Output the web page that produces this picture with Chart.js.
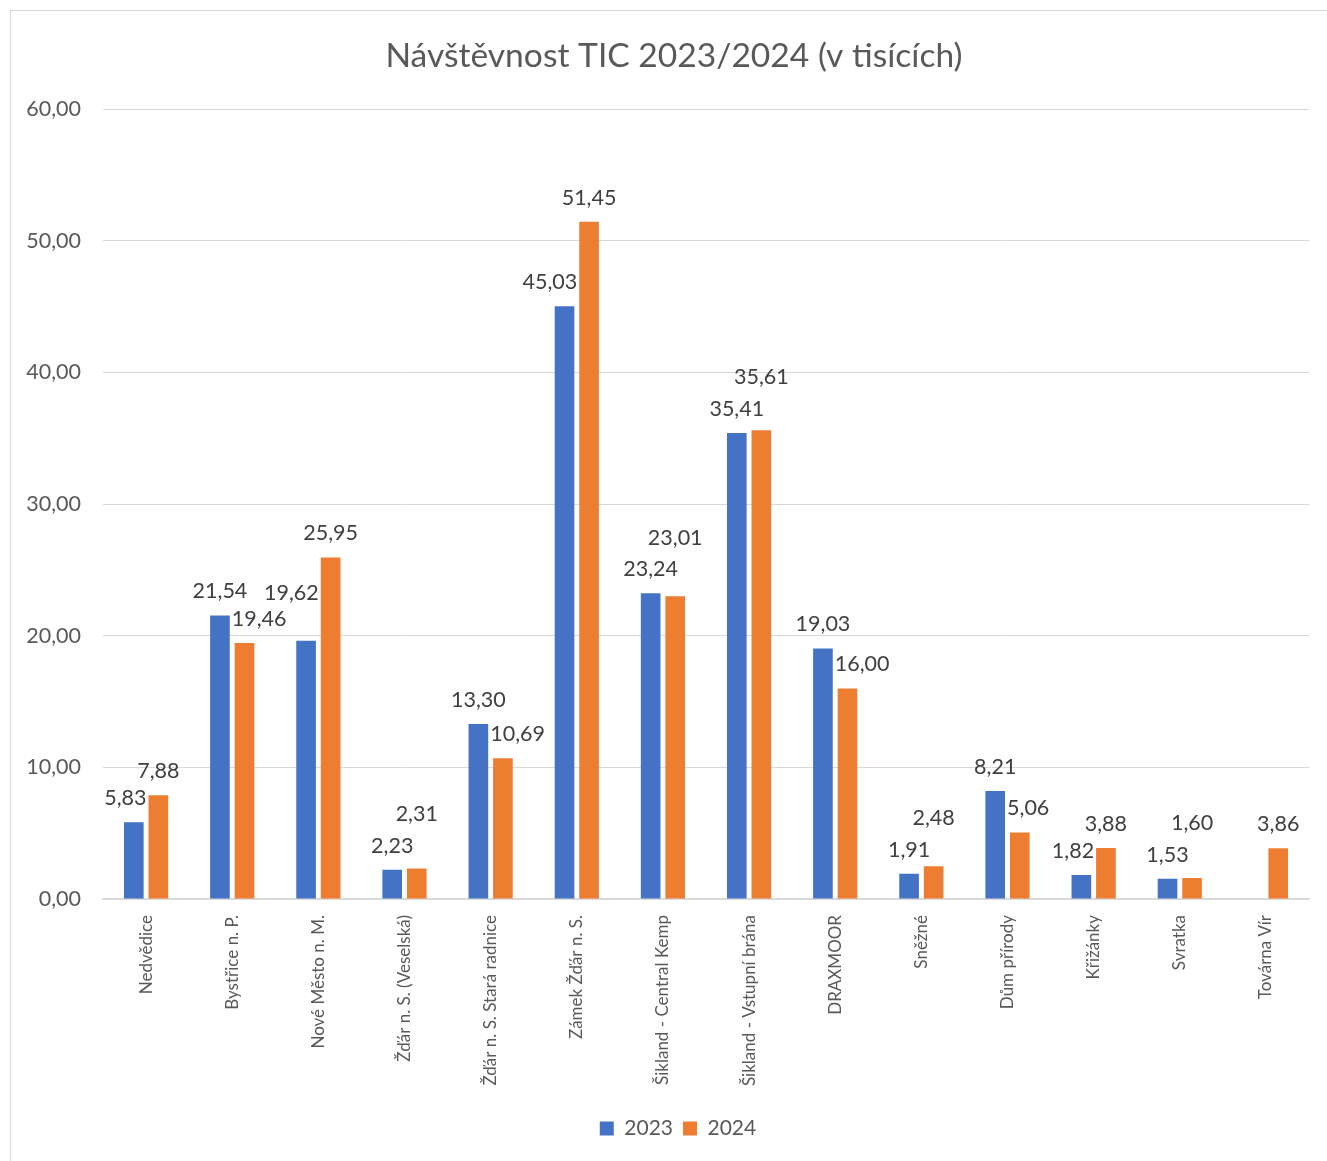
<!DOCTYPE html>
<html>
<head>
<meta charset="utf-8">
<script src="https://cdn.jsdelivr.net/npm/chart.js@4"></script>
<style>
  html, body { margin: 0; padding: 0; background: #fff; }
  #frame {
    position: absolute; left: 10px; top: 10px;
    width: 1316px; height: 1150px;
    border-left: 1px solid #d9d9d9; border-top: 1px solid #d9d9d9;
  }
  canvas { display: block; }
</style>
</head>
<body>
<div id="frame"><canvas id="chart" width="1316" height="1150"></canvas></div>
<script>
const categories = [
  "Nedvědice", "Bystřice n. P.", "Nové Město n. M.", "Žďár n. S. (Veselská)",
  "Žďár n. S. Stará radnice", "Zámek Žďár n. S.", "Šikland - Central Kemp",
  "Šikland - Vstupní brána", "DRAXMOOR", "Sněžné", "Dům přírody",
  "Křižánky", "Svratka", "Továrna Vír"
];
const visits2023 = [5.83, 21.54, 19.62, 2.23, 13.30, 45.03, 23.24, 35.41, 19.03, 1.91, 8.21, 1.82, 1.53, null];
const visits2024 = [7.88, 19.46, 25.95, 2.31, 10.69, 51.45, 23.01, 35.61, 16.00, 2.48, 5.06, 3.88, 1.60, 3.86];

const TEXT = "#595959";
const FONT = "Lato";

const fmt = (v) => v.toFixed(2).replace(".", ",");

// Excel-like value labels above bars, nudged away from neighbours
const valueLabels = {
  id: "valueLabels",
  afterDatasetsDraw(chart) {
    const ctx = chart.ctx;
    const size = 21.5;
    const h = size;
    ctx.save();
    ctx.font = `${size}px ${FONT}`;
    ctx.fillStyle = "#404040";
    ctx.textAlign = "center";
    ctx.textBaseline = "middle";
    const m0 = chart.getDatasetMeta(0).data;
    const m1 = chart.getDatasetMeta(1).data;
    const data = chart.data.datasets;
    const placed = [];
    const hit = (lbl, bar) =>
      lbl.x + lbl.w / 2 > bar.x - bar.width / 2 && lbl.x - lbl.w / 2 < bar.x + bar.width / 2 &&
      lbl.y + h / 2 > bar.y;
    const clash = (p, q) => Math.abs(p.x - q.x) < (p.w + q.w) / 2 && Math.abs(p.y - q.y) < h;
    for (let i = 0; i < categories.length; i++) {
      const boxes = [];
      [m0, m1].forEach((meta, d) => {
        const v = data[d].data[i];
        if (v == null) { boxes.push(null); return; }
        const bar = meta[i];
        const text = fmt(v);
        const w = ctx.measureText(text).width;
        boxes.push({ text, w, x: bar.x, y: bar.y - 24, bar });
      });
      const [a, b] = boxes;
      if (a && b) {
        if (hit(a, b.bar)) a.x = b.bar.x - b.bar.width / 2 - 2 - a.w / 2;
        if (hit(b, a.bar)) b.x = a.bar.x + a.bar.width / 2 + 2 + b.w / 2;
      }
      boxes.forEach((l) => {
        if (!l) return;
        let moved = true;
        while (moved) {
          moved = false;
          for (const p of placed) {
            if (clash(l, p)) { l.y = p.y - h - (p.bar.x < l.bar.x - 40 ? 4 : 10); moved = true; }
          }
        }
        placed.push(l);
        ctx.fillText(l.text, l.x, l.y);
      });
    }
    ctx.restore();
  }
};

// the original frame is wider than the picture: centre title and legend like it
const boxShift = {
  id: "boxShift",
  afterLayout(chart) {
    chart.legend.left += 18;
    chart.legend.right += 18;
    chart.titleBlock.left += 14;
    chart.titleBlock.right += 14;
  }
};

new Chart(document.getElementById("chart"), {
  type: "bar",
  data: {
    labels: categories,
    datasets: [
      { label: "2023", data: visits2023, backgroundColor: "#4472C4" },
      { label: "2024", data: visits2024, backgroundColor: "#ED7D31" }
    ]
  },
  options: {
    responsive: false,
    animation: false,
    categoryPercentage: 0.57,
    barPercentage: 0.8,
    layout: { padding: { left: 0, right: 18, top: 0, bottom: 12 } },
    plugins: {
      title: {
        display: true,
        text: "Návštěvnost TIC 2023/2024 (v tisících)",
        color: TEXT,
        font: { family: FONT, size: 33.6, weight: "normal" },
        padding: { top: 25, bottom: 33 }
      },
      legend: {
        position: "bottom",
        labels: {
          color: TEXT,
          font: { family: FONT, size: 21 },
          boxWidth: 14,
          boxHeight: 14,
          padding: 10
        }
      },
      tooltip: { enabled: false }
    },
    scales: {
      x: {
        grid: { display: false },
        border: { display: true, color: "#d9d9d9", width: 1.5 },
        ticks: {
          color: TEXT,
          font: { family: FONT, size: 17 },
          minRotation: 90,
          maxRotation: 90,
          padding: 8
        },
        afterFit(scale) { scale.height = 209; }
      },
      y: {
        min: 0,
        max: 60,
        grid: { color: "#d9d9d9", drawTicks: false },
        border: { display: false },
        ticks: {
          stepSize: 10,
          color: TEXT,
          font: { family: FONT, size: 21.5 },
          padding: 22,
          callback: (v) => fmt(v)
        },
        afterFit(scale) { scale.width = 92; }
      }
    }
  },
  plugins: [valueLabels, boxShift]
});
</script>
</body>
</html>
